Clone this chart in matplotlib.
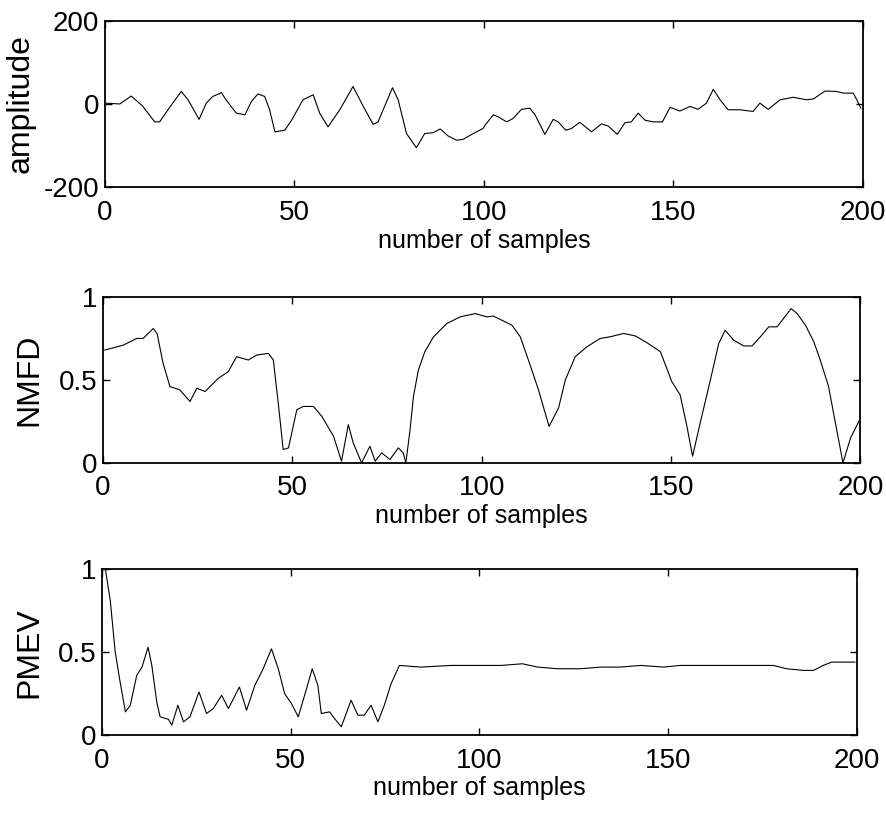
import matplotlib
matplotlib.use("Agg")
import matplotlib.pyplot as plt

plt.rcParams['font.family'] = ['Liberation Sans', 'DejaVu Sans']

# amplitude signal (top panel)
amp_x = [0, 4, 7, 10, 13.2, 14.5, 17, 20.2, 22, 24.9, 26.8, 28.5, 30.8, 32, 34.7, 37,
         38.7, 40.4, 42.2, 43.5, 44.9, 47.5, 49.3, 52.3, 55, 56.7, 58.9, 62, 65.5, 68.2,
         70.8, 72.1, 75.9, 77.4, 79.6, 82.2, 84.4, 86.6, 88.5, 90.6, 92.8, 94.5, 97.2,
         99.8, 100.3, 102.5, 103.8, 106, 107.7, 109.9, 112.1, 113.5, 116.1, 118.3, 119.6,
         121.6, 123.1, 125.3, 128.4, 131, 132.8, 135.2, 137.2, 138.9, 140.7, 142.5, 144.7,
         147.1, 149.1, 151.7, 154.4, 156.5, 158.7, 160.5, 162.3, 164.4, 167.5, 171, 172.8,
         175, 178.1, 181.6, 185.1, 186.9, 190, 193, 194.8, 197.4, 198.3, 199.4]
amp_y = [2, 0, 19, -5, -43, -43, -10, 30, 10, -37, 2, 18, 27, 10, -22, -26,
         6, 24, 18, -14, -67, -63, -39, 10, 22, -22, -55, -14, 42, -6,
         -49, -43, 39, 10, -71, -105, -71, -69, -60, -77, -87, -85, -71,
         -59, -51, -26, -31, -43, -35, -13, -10, -26, -73, -37, -43,
         -63, -59, -44, -67, -48, -53, -73, -45, -43, -22, -39, -43,
         -43, -8, -17, -6, -13, 2, 35, 10, -14, -14, -18, 2,
         -13, 10, 16, 10, 12, 31, 30, 26, 26, 11, -10]

# NMFD (middle panel)
nmfd_x = [0.5, 5.4, 8.9, 10.6, 13.3, 14.3, 15.9, 17.7, 20.3, 23, 24.8, 27, 30.5, 33.1,
          35.3, 38.4, 40.6, 43.7, 45, 46.3, 47.6, 49, 51.2, 52.9, 55.6, 57.8, 60.9, 63,
          64.8, 66.1, 68.3, 70.5, 71.9, 73.6, 75.8, 78, 79.3, 80, 81.1, 82, 83.3, 85,
          87.3, 90.8, 94.3, 98.3, 101.4, 103.1, 108, 110.2, 112.8, 115, 117.8, 120.3,
          122.1, 124.7, 127.8, 131.3, 133.9, 137.5, 140.6, 143.6, 147.2, 150.2, 152.4,
          154.2, 155.7, 157.7, 160.4, 162.6, 164.3, 166.5, 169.2, 171.4, 173.6, 175.8,
          178, 179.7, 181.7, 183.3, 185.5, 187.7, 189.4, 191.6, 193.4, 195.4, 197.4, 199.6]
nmfd_y = [0.68, 0.71, 0.75, 0.75, 0.81, 0.78, 0.60, 0.46, 0.44, 0.37, 0.45, 0.43, 0.51, 0.55,
          0.64, 0.62, 0.65, 0.66, 0.62, 0.36, 0.08, 0.09, 0.32, 0.34, 0.34, 0.28, 0.16, 0.01,
          0.23, 0.12, 0.0, 0.10, 0.01, 0.06, 0.02, 0.09, 0.06, 0.0, 0.20, 0.40, 0.56, 0.67,
          0.76, 0.84, 0.88, 0.90, 0.88, 0.885, 0.83, 0.76, 0.59, 0.44, 0.22, 0.33,
          0.50, 0.64, 0.70, 0.75, 0.76, 0.78, 0.765, 0.725, 0.67, 0.49, 0.41,
          0.22, 0.04, 0.24, 0.50, 0.72, 0.80, 0.74, 0.705, 0.705, 0.76, 0.82,
          0.82, 0.87, 0.93, 0.90, 0.83, 0.73, 0.62, 0.46, 0.24, 0.0, 0.15, 0.25]

# PMEV (bottom panel)
pmev_x = [0.9, 2.2, 3.5, 4.8, 6.2, 7.5, 9.2, 10.6, 12.2, 13.2, 14.5, 15.4, 17.6, 18.5,
          20.1, 21.6, 23.3, 25.7, 27.7, 29.5, 31.7, 33.5, 36.4, 38.3, 40.5, 42.7, 44.9,
          46.7, 48.4, 50.2, 52, 54.2, 55.7, 57.2, 58.1, 60.3, 61.6, 63.4, 66, 67.8, 69.5,
          71.3, 73.1, 74.8, 76.6, 78.8, 84.5, 92.5, 100.4, 105.7, 111.4, 115.4, 120.7,
          126.9, 132.1, 137.4, 142.7, 148.8, 153.2, 162, 170.8, 177.9, 181.4, 185.8,
          188.5, 191.1, 193.3, 196.4, 199.5]
pmev_y = [1.0, 0.81, 0.50, 0.32, 0.14, 0.18, 0.36, 0.41, 0.53, 0.42, 0.20, 0.11, 0.095, 0.06,
          0.18, 0.08, 0.11, 0.26, 0.13, 0.16, 0.24, 0.16, 0.29, 0.15, 0.30, 0.40, 0.52,
          0.40, 0.25, 0.19, 0.11, 0.28, 0.40, 0.30, 0.13, 0.14, 0.10, 0.05, 0.21, 0.12, 0.12,
          0.18, 0.08, 0.18, 0.31, 0.42, 0.41, 0.42, 0.42, 0.42, 0.43, 0.41, 0.40,
          0.40, 0.41, 0.41, 0.42, 0.41, 0.42, 0.42, 0.42, 0.42, 0.40, 0.39,
          0.39, 0.42, 0.44, 0.44, 0.44]

x_ticks = [0, 50, 100, 150, 200]
panels = [
    (amp_x, amp_y, "amplitude", (-200, 200), [-200, 0, 200], ["-200", "0", "200"]),
    (nmfd_x, nmfd_y, "NMFD", (0, 1), [0, 0.5, 1], ["0", "0.5", "1"]),
    (pmev_x, pmev_y, "PMEV", (0, 1), [0, 0.5, 1], ["0", "0.5", "1"]),
]
# axes boxes in figure fractions [left, bottom, width, height]
boxes = [
    [0.118, 0.773, 0.855, 0.202],
    [0.116, 0.439, 0.854, 0.201],
    [0.115, 0.109, 0.851, 0.201],
]
ylabel_pads = [6, 10, 10]

fig = plt.figure(figsize=(8.87, 8.25), dpi=100)
for (xs, ys, label, ylim, yt, ytl), box, lp in zip(panels, boxes, ylabel_pads):
    ax = fig.add_axes(box)
    ax.plot(xs, ys, color="black", lw=0.8)
    ax.set_xlim(0, 200)
    ax.set_ylim(*ylim)
    ax.set_xticks(x_ticks)
    ax.set_yticks(yt)
    ax.set_yticklabels(ytl)
    ax.tick_params(direction="in", top=True, right=True, length=5, width=1,
                   labelsize=20, pad=9)
    ax.tick_params(axis="y", pad=4)
    for s in ax.spines.values():
        s.set_linewidth(1.3)
    ax.set_xlabel("number of samples", fontsize=18, labelpad=2)
    ax.set_ylabel(label, fontsize=23, labelpad=lp)

fig.savefig("out.png", dpi=100)
